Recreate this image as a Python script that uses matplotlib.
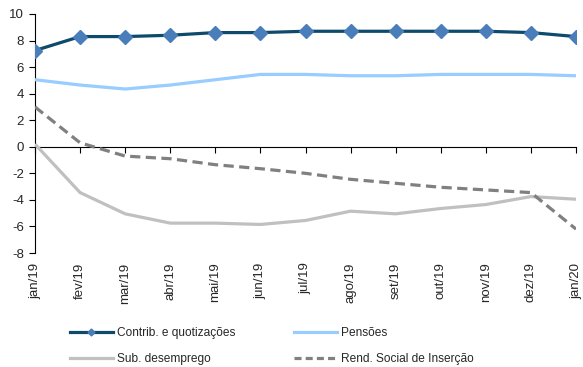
import matplotlib
matplotlib.use("Agg")
import matplotlib.pyplot as plt
from matplotlib.lines import Line2D
import matplotlib.transforms as mtransforms

plt.rcParams['font.family'] = ['Liberation Sans', 'DejaVu Sans']
plt.rcParams['axes.unicode_minus'] = False

months = ["jan/19", "fev/19", "mar/19", "abr/19", "mai/19", "jun/19", "jul/19",
          "ago/19", "set/19", "out/19", "nov/19", "dez/19", "jan/20"]
contrib = [7.25, 8.3, 8.3, 8.4, 8.6, 8.6, 8.7, 8.7, 8.7, 8.7, 8.7, 8.6, 8.3]
pensoes = [5.05, 4.65, 4.35, 4.65, 5.05, 5.45, 5.45, 5.35, 5.35, 5.45, 5.45, 5.45, 5.35]
sub_desemprego = [0.2, -3.45, -5.05, -5.75, -5.75, -5.85, -5.55, -4.85, -5.05, -4.65, -4.35, -3.75, -3.95]
rsi = [3.0, 0.3, -0.7, -0.9, -1.35, -1.65, -2.0, -2.45, -2.75, -3.05, -3.25, -3.45, -6.2]

yticks = [10, 8, 6, 4, 2, 0, -2, -4, -6, -8]

txt = '#262626'
fig = plt.figure(figsize=(5.83, 3.67), dpi=100)
ax = fig.add_axes([35 / 583, 1 - 253 / 367, (576 - 35) / 583, (253 - 14) / 367])

x = list(range(len(months)))
ax.plot(x, sub_desemprego, color='#c0c0c0', lw=2.3, solid_capstyle='butt', zorder=3)
ax.plot(x, rsi, color='#808080', lw=2.3, dashes=(3.2, 1.7), zorder=3)
ax.plot(x, pensoes, color='#99ccff', lw=2.3, zorder=3)
ax.plot(x, contrib, color='#0d4a6b', lw=2.3, marker='D', markersize=7.5,
        markerfacecolor='#4a7ebb', markeredgecolor='#4a7ebb', zorder=4)

ax.set_xlim(0, len(months) - 1)
ax.set_ylim(-8, 10)
ax.set_yticks(yticks)
ax.tick_params(axis='y', direction='out', length=4, width=0.8, colors='black',
               labelcolor=txt, labelsize=9.5, pad=4)

for s in ['top', 'right']:
    ax.spines[s].set_visible(False)
ax.spines['left'].set_linewidth(0.8)
ax.spines['bottom'].set_position(('data', 0))
ax.spines['bottom'].set_linewidth(0.8)
ax.set_xticks(x)
ax.tick_params(axis='x', direction='out', length=4, width=0.8, labelbottom=False)

trans = mtransforms.blended_transform_factory(ax.transData, ax.transAxes)
for xi, lab in zip(x, months):
    ax.text(xi, -0.04, lab, transform=trans, rotation=90, ha='center', va='top',
            fontsize=9.5, color=txt, clip_on=False)

handles = [
    Line2D([], [], color='#0d4a6b', lw=2.3, marker='D', markersize=3.5,
           markerfacecolor='#4a7ebb', markeredgecolor='#4a7ebb'),
    Line2D([], [], color='#c0c0c0', lw=2.3),
    Line2D([], [], color='#99ccff', lw=2.3),
    Line2D([], [], color='#808080', lw=2.3, dashes=(2.2, 1.3)),
]
labels = ["Contrib. e quotizações", "Sub. desemprego", "Pensões",
          "Rend. Social de Inserção"]
fig.legend(handles, labels, ncol=2, loc='upper left',
           bbox_to_anchor=(64 / 583, 1 - 321 / 367), frameon=False,
           fontsize=8.6, handlelength=3.6, handletextpad=0.3,
           columnspacing=4.95, labelspacing=1.2, borderpad=0,
           labelcolor=txt)

fig.savefig('out.png', dpi=100)
